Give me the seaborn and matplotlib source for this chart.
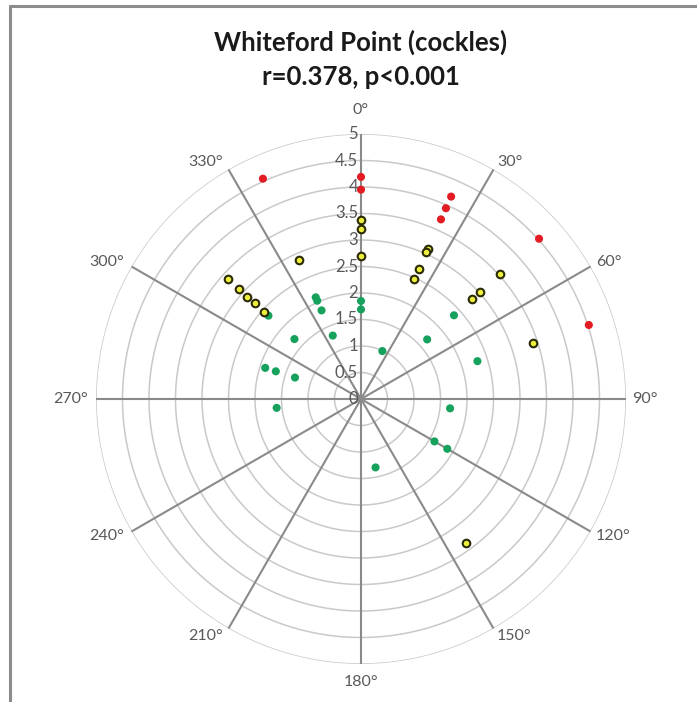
import numpy as np
import pandas as pd
import matplotlib
matplotlib.use("Agg")
import matplotlib.pyplot as plt
import seaborn as sns
from matplotlib.lines import Line2D

# Bearing (degrees) and value of each observation, grouped by class
red_theta = [336, 0, 0, 24, 24, 24, 48, 72]
red_r = [4.55, 4.19, 3.95, 4.18, 3.94, 3.71, 4.52, 4.52]

yellow_theta = [0, 0, 0, 336, 312, 312, 312, 312, 312, 24, 24, 24, 24, 48, 48, 48, 72, 144]
yellow_r = [3.37, 3.21, 2.69, 2.88, 3.38, 3.11, 2.89, 2.70, 2.46, 3.09, 3.03, 2.68, 2.48,
            3.52, 3.02, 2.82, 3.42, 3.37]

green_theta = [0, 0, 24, 48, 48, 72, 96, 120, 120, 168, 264, 288, 288, 288, 312, 312,
               336, 336, 336, 336]
green_r = [1.85, 1.69, 0.99, 2.36, 1.68, 2.31, 1.69, 1.60, 1.88, 1.32, 1.60, 1.90, 1.69,
           1.31, 1.69, 2.35, 2.10, 2.03, 1.83, 1.31]

radial_ticks = [0, 0.5, 1, 1.5, 2, 2.5, 3, 3.5, 4, 4.5, 5]
radial_labels = ["0", "0.5", "1", "1.5", "2", "2.5", "3", "3.5", "4", "4.5", "5"]
angle_ticks = [0, 30, 60, 90, 120, 150, 180, 210, 240, 270, 300, 330]
angle_labels = [f"{a}°" for a in angle_ticks]

title_lines = ["Whiteford Point (cockles)", "r=0.378, p<0.001"]

sns.set_theme(style="white")
plt.rcParams["font.family"] = ["Lato", "DejaVu Sans"]

W, H = 697, 702
fig = plt.figure(figsize=(W / 100, H / 100), dpi=100)
fig.patch.set_facecolor("white")

cx, cy, R = 361, 399, 265
ax = fig.add_axes([(cx - R) / W, (H - cy - R) / H, 2 * R / W, 2 * R / H], projection="polar")
ax.set_theta_zero_location("N")
ax.set_theta_direction(-1)
ax.set_ylim(0, 5)
ax.set_facecolor("white")

# grid: light rings every 0.5, darker spokes every 30 degrees
ax.set_yticks(radial_ticks)
ax.set_yticklabels([])
ax.set_xticks(np.deg2rad(angle_ticks))
ax.set_xticklabels([])
ax.grid(False)
circ = np.linspace(0, 2 * np.pi, 400)
for rv in radial_ticks[1:]:
    ax.plot(circ, np.full_like(circ, rv), color="#c9c9c9", lw=1.1, zorder=1)
for a in angle_ticks:
    ax.plot([np.deg2rad(a)] * 2, [0, 5], color="#8a8a8a", lw=1.5, zorder=1.5)
ax.spines["polar"].set_visible(False)

df_red = pd.DataFrame({"theta": np.deg2rad(red_theta), "r": red_r})
df_yel = pd.DataFrame({"theta": np.deg2rad(yellow_theta), "r": yellow_r})
df_grn = pd.DataFrame({"theta": np.deg2rad(green_theta), "r": green_r})

sns.scatterplot(data=df_grn, x="theta", y="r", ax=ax, color="#16a25c", s=34,
                edgecolor="none", zorder=3, legend=False)
sns.scatterplot(data=df_red, x="theta", y="r", ax=ax, color="#e31b23", s=34,
                edgecolor="none", zorder=3, legend=False)
sns.scatterplot(data=df_yel, x="theta", y="r", ax=ax, color="#eeee3c", s=30,
                edgecolor="#2a2a05", linewidth=1.5, zorder=4, legend=False)
ax.set_xlabel("")
ax.set_ylabel("")

# radial value labels along the 0 degree spoke
for rv, lab in zip(radial_ticks, radial_labels):
    ax.annotate(lab, xy=(0, rv), xytext=(-3, 0), textcoords="offset pixels",
                ha="right", va="center", fontsize=12, color="#595959",
                annotation_clip=False, zorder=5)

# bearing labels just beyond the end of each spoke
for a, lab in zip(angle_ticks, angle_labels):
    s, c = np.sin(np.deg2rad(a)), np.cos(np.deg2rad(a))
    if a == 0:
        ha, off = "center", (0, 24)
    elif a == 180:
        ha, off = "center", (0, -18)
    elif a < 180:
        ha, off = "left", (5 * s + 1, 9 * c)
    else:
        ha, off = "right", (5 * s - 3, 9 * c)
    ax.annotate(lab, xy=(np.deg2rad(a), 5), xytext=off, textcoords="offset pixels",
                ha=ha, va="center", fontsize=11.5, color="#595959",
                annotation_clip=False)

fig.text(cx / W, 1 - 42 / H, title_lines[0], ha="center", va="center",
         fontsize=18.5, fontweight="bold", color="#1a1a1a")
fig.text(cx / W, 1 - 77 / H, title_lines[1], ha="center", va="center",
         fontsize=18.5, fontweight="bold", color="#1a1a1a")

# chart area frame
fig.add_artist(Line2D([10 / W, 1.0], [1 - 6 / H, 1 - 6 / H], transform=fig.transFigure,
                      color="#8c8c8c", lw=2.2))
fig.add_artist(Line2D([10 / W, 10 / W], [0, 1 - 6 / H], transform=fig.transFigure,
                      color="#8c8c8c", lw=2.2))

fig.savefig("out.png", dpi=100, facecolor="white")
